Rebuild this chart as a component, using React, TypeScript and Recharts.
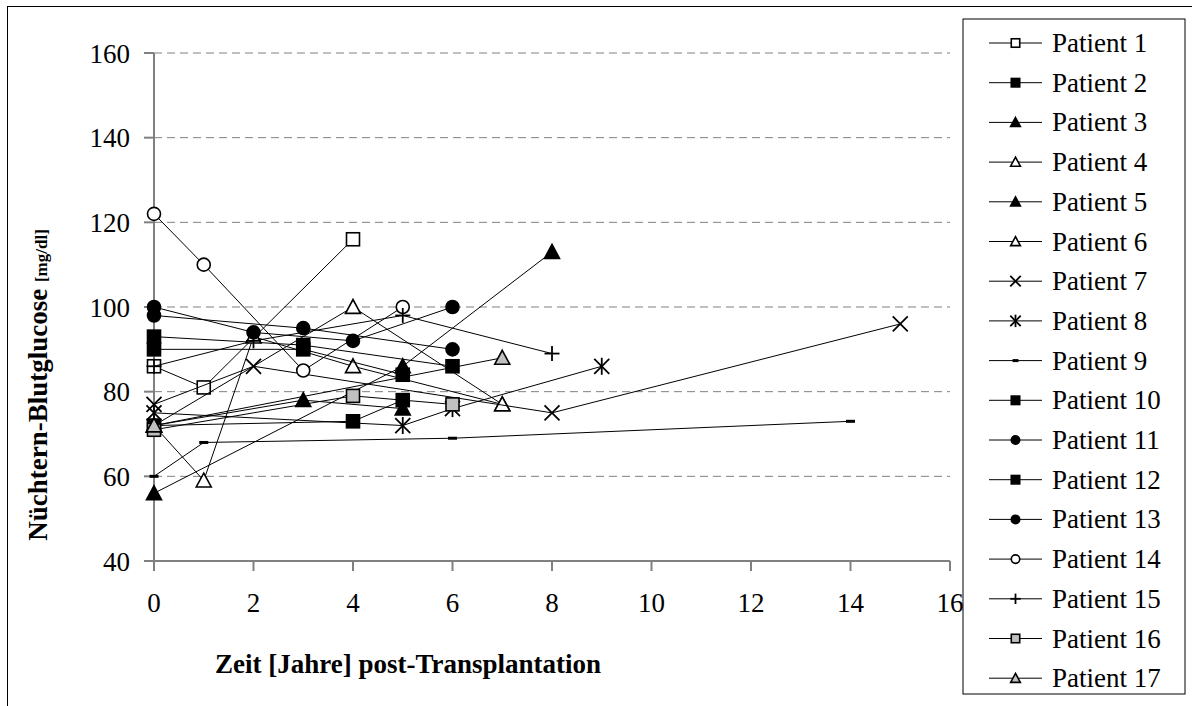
import React from 'react';
import { ScatterChart, Scatter, XAxis, YAxis, CartesianGrid } from 'recharts';

// years post-transplant on the x axis, fasting glucose (mg/dl) on the y axis
const yearTicks = [0, 2, 4, 6, 8, 10, 12, 14, 16];
const glucoseTicks = [40, 60, 80, 100, 120, 140, 160];

const patient1 = [[0, 86], [1, 81], [4, 116]];
const patient2 = [[0, 93], [3, 91], [6, 86]];
const patient3 = [[0, 56], [5, 86], [8, 113]];
const patient4 = [[0, 72], [1, 59], [2, 93], [4, 86], [7, 77]];
const patient5 = [[0, 72], [3, 78], [5, 76]];
const patient6 = [[0, 72], [4, 100], [7, 77]];
const patient7 = [[0, 77], [2, 86], [8, 75], [15, 96]];
const patient8 = [[0, 75], [5, 72], [6, 76], [9, 86]];
const patient9 = [[0, 60], [1, 68], [6, 69], [14, 73]];
const patient10 = [[0, 90], [3, 90], [5, 84]];
const patient11 = [[0, 100], [2, 94], [4, 92], [6, 100]];
const patient12 = [[0, 72], [4, 73], [5, 78]];
const patient13 = [[0, 98], [3, 95], [6, 90]];
const patient14 = [[0, 122], [1, 110], [3, 85], [5, 100]];
const patient15 = [[0, 86], [2, 92], [5, 98], [8, 89]];
const patient16 = [[0, 71], [4, 79], [6, 77]];
const patient17 = [[0, 72], [7, 88]];

const patientNames = [
  'Patient 1', 'Patient 2', 'Patient 3', 'Patient 4', 'Patient 5', 'Patient 6',
  'Patient 7', 'Patient 8', 'Patient 9', 'Patient 10', 'Patient 11', 'Patient 12',
  'Patient 13', 'Patient 14', 'Patient 15', 'Patient 16', 'Patient 17',
];
const markerKinds = [
  'squareOpen', 'squareFill', 'triFill', 'triOpen', 'triFill', 'triOpen',
  'cross', 'star', 'dash', 'squareFill', 'circleFill', 'squareFill',
  'circleFill', 'circleOpen', 'plus', 'squareGray', 'triGray',
];
const allPatients = [
  patient1, patient2, patient3, patient4, patient5, patient6, patient7, patient8, patient9,
  patient10, patient11, patient12, patient13, patient14, patient15, patient16, patient17,
];

const FONT = '"Liberation Serif", "Times New Roman", serif';
const GRAY = '#808080';

const Marker = ({ kind, cx, cy, k = 1 }: { kind: string; cx: number; cy: number; k?: number }) => {
  const s = 6.5 * k;
  const sw = 1.6;
  switch (kind) {
    case 'squareOpen':
    case 'squareFill':
    case 'squareGray': {
      const fill = kind === 'squareOpen' ? '#fff' : kind === 'squareGray' ? '#c0c0c0' : '#000';
      return <rect x={cx - s} y={cy - s} width={2 * s} height={2 * s} fill={fill} stroke="#000" strokeWidth={sw} />;
    }
    case 'triOpen':
    case 'triFill':
    case 'triGray': {
      const fill = kind === 'triOpen' ? '#fff' : kind === 'triGray' ? '#c0c0c0' : '#000';
      const h = 7.5 * k;
      return (
        <polygon
          points={`${cx},${cy - h} ${cx + h},${cy + h * 0.85} ${cx - h},${cy + h * 0.85}`}
          fill={fill}
          stroke="#000"
          strokeWidth={sw}
        />
      );
    }
    case 'circleOpen':
    case 'circleFill':
      return <circle cx={cx} cy={cy} r={s} fill={kind === 'circleOpen' ? '#fff' : '#000'} stroke="#000" strokeWidth={sw} />;
    case 'plus':
      return (
        <g stroke="#000" strokeWidth={1.8}>
          <line x1={cx - s - 1} y1={cy} x2={cx + s + 1} y2={cy} />
          <line x1={cx} y1={cy - s - 1} x2={cx} y2={cy + s + 1} />
        </g>
      );
    case 'cross':
      return (
        <g stroke="#000" strokeWidth={1.8}>
          <line x1={cx - s - 1} y1={cy - s - 1} x2={cx + s + 1} y2={cy + s + 1} />
          <line x1={cx - s - 1} y1={cy + s + 1} x2={cx + s + 1} y2={cy - s - 1} />
        </g>
      );
    case 'star':
      return (
        <g stroke="#000" strokeWidth={1.8}>
          <line x1={cx - s - 1} y1={cy - s - 1} x2={cx + s + 1} y2={cy + s + 1} />
          <line x1={cx - s - 1} y1={cy + s + 1} x2={cx + s + 1} y2={cy - s - 1} />
          <line x1={cx} y1={cy - s - 2} x2={cx} y2={cy + s + 2} />
        </g>
      );
    case 'dash':
      return <rect x={cx - 4.5 * k} y={cy - 1.5} width={9 * k} height={3} fill="#000" />;
    default:
      return null;
  }
};

const LegendBox = () => (
  <svg width={224} height={677} style={{ position: 'absolute', left: 962, top: 18 }}>
    <rect x={1} y={1} width={222} height={675} fill="#fff" stroke="#000" strokeWidth={1} />
    {patientNames.map((name, i) => {
      const y = 25 + i * 39.7;
      return (
        <g key={name}>
          <line x1={27} y1={y} x2={80} y2={y} stroke="#000" strokeWidth={1} />
          <Marker kind={markerKinds[i]} cx={53.5} cy={y} k={0.65} />
          <text x={90} y={y + 9} fontFamily={FONT} fontSize={27} fill="#000">
            {name}
          </text>
        </g>
      );
    })}
  </svg>
);

export default function App() {
  return (
    <div style={{ position: 'absolute', left: 0, top: 0, width: 1192, height: 706, background: '#fff', overflow: 'hidden' }}>
      <div
        style={{
          position: 'absolute', left: 7, top: 6, width: 1185, height: 700,
          borderTop: '1px solid #000', borderLeft: '1px solid #000', boxSizing: 'border-box',
        }}
      />
      <div style={{ position: 'absolute', left: 0, top: 0 }}>
        <ScatterChart width={1192} height={706} margin={{ top: 53, right: 242, bottom: 85, left: 0 }}>
          <CartesianGrid horizontal vertical={false} stroke={GRAY} strokeDasharray="8 5" />
          <XAxis
            type="number"
            dataKey="x"
            domain={[0, 16]}
            ticks={yearTicks}
            interval={0}
            height={60}
            stroke={GRAY}
            strokeWidth={2}
            tickSize={10}
            tickMargin={22}
            tick={{ fill: '#000', fontSize: 27, fontFamily: FONT }}
            label={{
              content: () => (
                <text x={408} y={673} textAnchor="middle" fontFamily={FONT} fontSize={27} fontWeight="bold" fill="#000">
                  Zeit [Jahre] post-Transplantation
                </text>
              ),
            }}
          />
          <YAxis
            type="number"
            dataKey="y"
            domain={[40, 160]}
            ticks={glucoseTicks}
            interval={0}
            width={154}
            stroke={GRAY}
            strokeWidth={2}
            tickSize={10}
            tickMargin={14}
            tick={{ fill: '#000', fontSize: 27, fontFamily: FONT }}
            label={{
              content: () => (
                <text
                  transform="translate(47, 385) rotate(-90)"
                  textAnchor="middle"
                  fontFamily={FONT}
                  fontWeight="bold"
                  fill="#000"
                >
                  <tspan fontSize={27}>Nüchtern-Blutglucose </tspan>
                  <tspan fontSize={17}>[mg/dl]</tspan>
                </text>
              ),
            }}
          />
          {allPatients.map((pts, i) => (
            <Scatter
              key={patientNames[i]}
              name={patientNames[i]}
              data={pts.map(([x, y]) => ({ x, y }))}
              fill="#000"
              line={{ stroke: '#000', strokeWidth: 1 }}
              lineType="joint"
              isAnimationActive={false}
              shape={(p: any) => <Marker kind={markerKinds[i]} cx={p.cx} cy={p.cy} />}
            />
          ))}
        </ScatterChart>
      </div>
      <LegendBox />
    </div>
  );
}
